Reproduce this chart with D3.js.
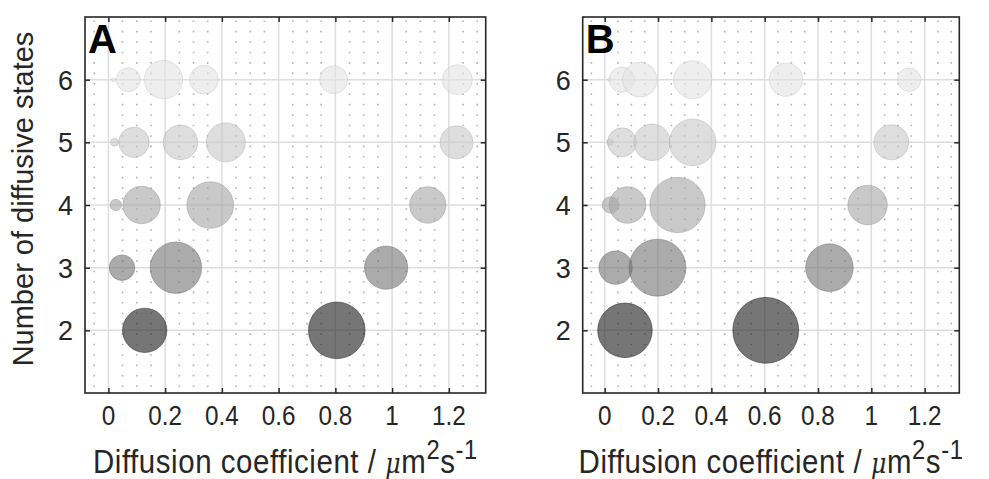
<!DOCTYPE html>
<html>
<head>
<meta charset="utf-8">
<script src="https://cdn.jsdelivr.net/npm/d3@7"></script>
<style>
  body { margin: 0; background: #fff; }
  svg text { font-family: "Liberation Sans", Arial, Helvetica, sans-serif; fill: #262626; }
</style>
</head>
<body>
<svg id="chart" width="989" height="479"></svg>
<script>
// number of diffusive states (one row of bubbles each)
const states = [2, 3, 4, 5, 6];
const xTicks = [0, 0.2, 0.4, 0.6, 0.8, 1, 1.2];
const xTickLabels = ["0", "0.2", "0.4", "0.6", "0.8", "1", "1.2"];
const yTicks = [2, 3, 4, 5, 6];

// panel A: diffusion coefficients (um^2/s) and weights for each state model
const aCoef = [
    [0.128, 0.805],
    [0.048, 0.238, 0.979],
    [0.026, 0.117, 0.359, 1.126],
    [0.022, 0.090, 0.254, 0.414, 1.227],
    [0.018, 0.070, 0.194, 0.337, 0.794, 1.230]
];
const aWeight = [
    [0.38, 0.62],
    [0.126, 0.51, 0.36],
    [0.025, 0.27, 0.42, 0.256],
    [0.012, 0.178, 0.231, 0.293, 0.21],
    [0.003, 0.111, 0.284, 0.158, 0.151, 0.174]
];

// panel B
const bCoef = [
    [0.076, 0.604],
    [0.041, 0.198, 0.843],
    [0.022, 0.086, 0.273, 0.986],
    [0.020, 0.065, 0.178, 0.330, 1.075],
    [0.019, 0.064, 0.132, 0.330, 0.680, 1.142]
];
const bWeight = [
    [0.575, 0.84],
    [0.215, 0.627, 0.437],
    [0.053, 0.258, 0.592, 0.30],
    [0.008, 0.162, 0.256, 0.419, 0.236],
    [0.003, 0.124, 0.231, 0.279, 0.215, 0.106]
];

// gray level per row (drawn with alpha)
const shades = ["#1b1b1b", "#737373", "#a5a5a5", "#c8c8c8", "#e3e3e3"];

const svg = d3.select("#chart");
const rScale = d3.scaleSqrt().domain([0, 1]).range([0, 36]);

function MakePanel(box, coef, weight, letter) {
    const x = d3.scaleLinear().domain([-0.0825, 1.33]).range([box.left, box.right]);
    const y = d3.scaleLinear().domain([1, 7]).range([box.bottom, box.top]);
    const g = svg.append("g");

    // minor grid, dotted
    const minor = d3.range(-0.05, 1.33, 0.05).filter(v => Math.abs(v / 0.2 - Math.round(v / 0.2)) > 0.01);
    g.selectAll(".minor").data(minor).join("line")
        .attr("x1", d => x(d)).attr("x2", d => x(d))
        .attr("y1", box.top).attr("y2", box.bottom)
        .attr("stroke", "#b3b3b3")
        .attr("stroke-width", 1.6)
        .attr("stroke-dasharray", "1.6,8.83")
        .attr("stroke-dashoffset", -3.4);

    // major grid
    g.selectAll(".vgrid").data(xTicks).join("line")
        .attr("x1", d => x(d)).attr("x2", d => x(d))
        .attr("y1", box.top).attr("y2", box.bottom)
        .attr("stroke", "#dedede").attr("stroke-width", 1.5);
    g.selectAll(".hgrid").data(yTicks).join("line")
        .attr("x1", box.left).attr("x2", box.right)
        .attr("y1", d => y(d)).attr("y2", d => y(d))
        .attr("stroke", "#dedede").attr("stroke-width", 1.5);

    // bubbles
    const pts = [];
    states.forEach((s, i) => {
        coef[i].forEach((c, j) => pts.push({s, c, w: weight[i][j], shade: shades[i]}));
    });
    g.selectAll(".bubble").data(pts).join("circle")
        .attr("cx", d => x(d.c))
        .attr("cy", d => y(d.s))
        .attr("r", d => rScale(d.w))
        .attr("fill", d => d.shade)
        .attr("fill-opacity", 0.6)
        .attr("stroke", d => d3.color(d.shade).darker(0.4))
        .attr("stroke-opacity", 0.55)
        .attr("stroke-width", 0.8);

    // axes with inward ticks on all four sides
    const tl = 5;
    g.append("g").attr("transform", `translate(0,${box.bottom})`)
        .call(d3.axisBottom(x).tickValues(xTicks).tickSize(-tl).tickFormat(""));
    g.append("g").attr("transform", `translate(0,${box.top})`)
        .call(d3.axisTop(x).tickValues(xTicks).tickSize(-tl).tickFormat(""));
    g.append("g").attr("transform", `translate(${box.left},0)`)
        .call(d3.axisLeft(y).tickValues(yTicks).tickSize(-tl).tickFormat(""));
    g.append("g").attr("transform", `translate(${box.right},0)`)
        .call(d3.axisRight(y).tickValues(yTicks).tickSize(-tl).tickFormat(""));
    g.selectAll(".domain").remove();
    g.selectAll(".tick line").attr("stroke", "#262626").attr("stroke-width", 1.5);

    g.append("rect")
        .attr("x", box.left).attr("y", box.top)
        .attr("width", box.right - box.left).attr("height", box.bottom - box.top)
        .attr("fill", "none").attr("stroke", "#262626").attr("stroke-width", 1.6);

    // tick labels (reference glyphs are tall and narrow)
    g.selectAll(".xl").data(xTicks).join("text")
        .attr("transform", d => `translate(${x(d)},${box.bottom + 32}) scale(0.9,1.05)`)
        .attr("text-anchor", "middle")
        .attr("font-size", 27)
        .text((d, i) => xTickLabels[i]);
    g.selectAll(".yl").data(yTicks).join("text")
        .attr("x", box.left - 12).attr("y", d => y(d) + 10)
        .attr("text-anchor", "end")
        .attr("font-size", 27)
        .text(d => d);

    // x label
    const t = g.append("text")
        .attr("transform", `translate(${(box.left + box.right) / 2},${box.bottom + 80}) scale(0.95,1.08)`)
        .attr("text-anchor", "middle")
        .attr("font-size", 31)
        .attr("letter-spacing", 0.6);
    t.append("tspan").text("Diffusion coefficient / ");
    t.append("tspan").attr("font-family", "DejaVu Serif").attr("font-style", "italic").attr("font-size", 25).text("μ");
    t.append("tspan").text("m");
    t.append("tspan").attr("font-size", 25).attr("dy", -13).text("2");
    t.append("tspan").attr("dy", 13).text("s");
    t.append("tspan").attr("font-size", 25).attr("dy", -13).text("-1");

    // panel letter
    g.append("text")
        .attr("x", box.left + 3).attr("y", box.top + 36)
        .attr("font-size", 40).attr("font-weight", "bold")
        .style("fill", "#000")
        .text(letter);
}

MakePanel({left: 85, right: 485.7, top: 17, bottom: 393}, aCoef, aWeight, "A");
MakePanel({left: 582.7, right: 959.3, top: 17, bottom: 393}, bCoef, bWeight, "B");

// y label
svg.append("text")
    .attr("transform", "translate(33,199) rotate(-90)")
    .attr("text-anchor", "middle")
    .attr("font-size", 29)
    .text("Number of diffusive states");
</script>
</body>
</html>
